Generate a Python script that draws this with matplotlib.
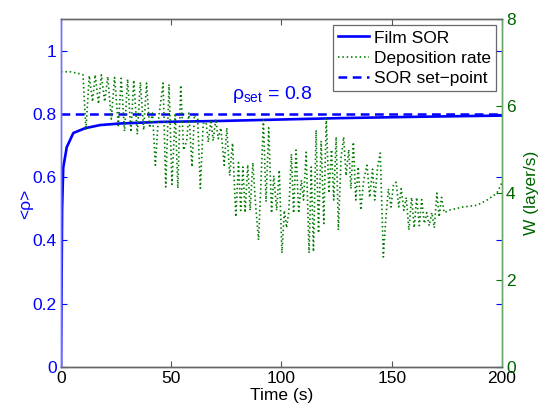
import matplotlib
matplotlib.use("Agg")
import matplotlib.pyplot as plt

plt.rcParams['font.family'] = ['Liberation Sans', 'DejaVu Sans']
plt.rcParams['mathtext.fontset'] = 'custom'
plt.rcParams['mathtext.rm'] = 'Liberation Sans'
plt.rcParams['mathtext.it'] = 'Liberation Sans'
plt.rcParams['mathtext.bf'] = 'Liberation Sans:bold'

# ---- data ----
sor_t = [0, 0.5, 1.0, 2.6, 5.6, 10.9, 17.7, 26.8, 44.9, 72.1, 126.5, 160, 200]
sor_rho = [0.0, 0.50, 0.63, 0.695, 0.74, 0.755, 0.765, 0.77, 0.775, 0.778, 0.787, 0.791, 0.795]

setpoint = 0.8

rate_t = [0, 4, 8, 10,
          11.3, 12.8, 14.3, 15.5, 17.0, 18.3, 19.8, 21.2, 22.8, 24.3, 26.0, 27.3,
          28.8, 30.2, 31.7, 33.0, 34.6, 36.0, 37.5, 38.8, 40.2, 41.5, 42.8, 44.0,
          46.3, 47.5, 49.0, 50.3, 51.8, 53.0, 54.3, 55.6, 57.0, 58.0, 59.4, 60.5,
          62.0, 63.2, 64.5, 65.8, 66.8, 68.0, 69.0, 70.2, 71.3, 72.5, 74.0, 75.2,
          76.5, 77.8, 79.3, 80.5, 81.5, 82.5, 83.5, 84.7, 85.8, 87.0, 88.3, 89.6,
          90.5, 91.8, 93.0, 94.2, 95.5, 96.5, 97.8, 99.0, 100.2, 101.3, 102.3,
          103.3, 104.5, 105.5, 106.6, 107.8, 109.0, 110.0, 111.2, 112.5, 113.5,
          114.5, 115.7, 116.8, 118.0, 119.2, 120.3, 121.5, 122.7, 123.7, 124.8,
          125.8, 127.0, 128.2, 129.3, 130.5, 131.5, 132.6, 133.7, 134.8, 136.0,
          137.3, 138.8, 140.0, 141.3, 142.3, 143.6, 144.8, 146.2, 147.3, 148.5,
          149.7, 150.8, 152.0, 153.2, 154.3, 155.5, 156.6, 157.8, 159.0, 160.2,
          161.3, 162.5, 163.6, 164.8, 165.9, 167.0, 168.2, 169.3, 170.5, 171.5,
          172.6, 173.8, 176.4, 182.3, 188.7, 193.6, 197.7, 199.2, 200.0]
rate_w = [6.79, 6.79, 6.75, 6.72,
          5.45, 6.70, 6.10, 6.72, 6.05, 6.72, 6.10, 6.68, 5.70, 6.66, 5.55, 6.64,
          5.42, 6.62, 5.40, 6.60, 5.35, 6.55, 5.45, 6.53, 5.50, 5.84, 4.64, 5.60,
          6.53, 4.14, 6.50, 4.20, 5.84, 4.11, 6.48, 4.99, 5.20, 5.84, 4.60, 5.80,
          5.70, 4.11, 5.60, 5.63, 5.17, 5.68, 5.20, 5.70, 5.25, 5.50, 4.64, 5.50,
          4.40, 5.15, 3.45, 4.70, 3.60, 4.60, 3.55, 4.65, 3.60, 4.70, 3.70, 2.92,
          4.00, 5.68, 3.80, 5.50, 3.54, 4.40, 3.60, 4.53, 2.62, 3.60, 3.20,
          3.56, 4.90, 3.54, 4.99, 3.54, 4.30, 3.84, 4.94, 2.62, 4.60,
          2.65, 5.45, 3.08, 5.20, 3.30, 5.72, 4.00, 5.00, 3.84, 5.29,
          3.15, 4.80, 5.29, 4.40, 5.00, 4.10, 5.17, 3.84, 4.60, 3.61,
          4.30, 4.64, 3.90, 4.55, 3.84, 4.60, 4.92, 2.53, 3.40, 4.10,
          3.68, 4.20, 4.25, 3.68, 4.10, 3.60, 3.90, 3.15, 3.90, 3.20,
          3.90, 3.25, 3.85, 3.30, 3.55, 3.25, 3.55, 3.20, 4.00, 3.45,
          3.90, 3.55, 3.61, 3.68, 3.72, 3.85, 4.00, 4.15, 4.25]

x_ticks = [0, 50, 100, 150, 200]
rho_ticks = [0, 0.2, 0.4, 0.6, 0.8, 1]
rho_ticklabels = ['0', '0.2', '0.4', '0.6', '0.8', '1']
w_ticks = [0, 2, 4, 6, 8]

BLUE = '#0000ff'
GREEN = '#007a00'
DGREEN = '#006400'

fig = plt.figure(figsize=(5.38, 4.07), dpi=100)
ax1 = fig.add_axes([0.1134, 0.0983, 0.8196, 0.8547])
ax2 = ax1.twinx()

l1, = ax1.plot(sor_t, sor_rho, color=BLUE, lw=1.9)
l3, = ax1.plot([0, 200], [setpoint, setpoint], color=BLUE, lw=1.8, ls=(0, (3.5, 2.2)))
l2, = ax2.plot(rate_t, rate_w, color=GREEN, lw=1.2, ls=(0, (0.9, 1.7)))

ax1.set_xlim(0, 200)
ax1.set_ylim(0, 1.1)
ax2.set_ylim(0, 8)
ax1.set_xticks(x_ticks)
ax1.set_yticks(rho_ticks)
ax1.set_yticklabels(rho_ticklabels)
ax2.set_yticks(w_ticks)

fs = 12.5
ax1.tick_params(axis='x', direction='in', length=4, top=True, colors='#555555',
                labelcolor='black', labelsize=fs, pad=3)
ax1.tick_params(axis='y', direction='in', length=4, right=True, colors=BLUE,
                labelcolor=BLUE, labelsize=fs, pad=3)
ax2.tick_params(axis='y', direction='in', length=4, colors=GREEN,
                labelcolor=DGREEN, labelsize=fs, pad=3)

for ax in (ax1, ax2):
    ax.spines['top'].set_color('#666666')
    ax.spines['bottom'].set_color('#666666')
    ax.spines['left'].set_color('#7070ff')
    ax.spines['right'].set_color('#6aa86a')
    for s in ax.spines.values():
        s.set_linewidth(1.0)

ax1.set_xlabel('Time (s)', fontsize=fs, labelpad=1)
ax1.set_ylabel('<ρ>', fontsize=fs, color=BLUE)
ax1.yaxis.set_label_coords(-0.064, 0.47)
ax2.set_ylabel('W (layer/s)', fontsize=fs, color=DGREEN, labelpad=6)

ax1.text(96, 0.862, r'$\rho_{\mathrm{set}}$ = 0.8', color=BLUE, fontsize=14,
         ha='center', va='center')

leg = ax2.legend([l1, l2, l3], ['Film SOR', 'Deposition rate', 'SOR set\u2212point'],
                 loc='upper right', fontsize=fs, frameon=True, fancybox=False,
                 borderaxespad=0.35, handlelength=1.8, handletextpad=0.25,
                 borderpad=0.3, labelspacing=0.3)
leg.get_frame().set_edgecolor('#444444')
leg.get_frame().set_linewidth(0.9)

fig.savefig('out.png', dpi=100)
